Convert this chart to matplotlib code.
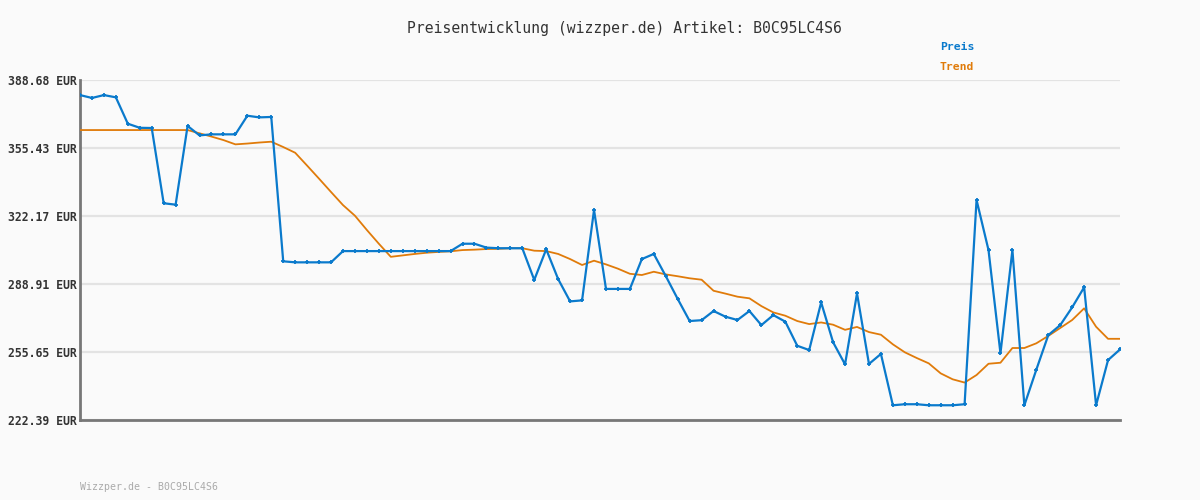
import numpy as np
import matplotlib
matplotlib.use('Agg')
import matplotlib.pyplot as plt

# Preis (Tagespreise) und Trendlinie, in EUR
preis = [381.3, 379.9, 381.3, 380.2, 367.3, 365.3, 365.2, 328.4, 327.7, 366.2,
         361.6, 362.1, 362.1, 362.1, 371.2, 370.4, 370.6, 300.0, 299.5, 299.5,
         299.5, 299.5, 305.0, 305.0, 305.0, 305.0, 305.0, 305.0, 305.0, 305.0,
         305.0, 305.0, 308.6, 308.6, 306.7, 306.4, 306.4, 306.4, 290.9, 305.9,
         291.3, 280.4, 280.9, 325.1, 286.5, 286.5, 286.5, 301.1, 303.6, 292.8,
         281.6, 270.8, 271.2, 275.7, 272.9, 271.3, 275.7, 268.8, 273.7, 270.5,
         258.7, 256.6, 279.9, 260.4, 249.6, 284.3, 249.8, 254.7, 229.6, 230.1,
         230.1, 229.6, 229.6, 229.6, 230.1, 330.0, 305.5, 255.0, 305.5, 229.6,
         247.0, 263.9, 268.8, 277.5, 287.3, 229.6, 251.7, 256.9]
trend = [364.2, 364.2, 364.2, 364.2, 364.2, 364.2, 364.2, 364.2, 364.2, 364.2,
         362.6, 361.0, 359.3, 357.2, 357.6, 358.1, 358.5, 355.9, 353.1, 346.8,
         340.4, 333.9, 327.5, 322.3, 315.3, 308.6, 302.2, 302.9, 303.6, 304.2,
         304.6, 304.9, 305.5, 305.7, 306.0, 306.1, 306.4, 306.4, 305.2, 305.0,
         303.6, 301.1, 298.2, 300.3, 298.5, 296.4, 293.9, 293.3, 294.9, 293.6,
         292.7, 291.7, 291.0, 285.6, 284.2, 282.7, 281.9, 278.1, 275.0, 273.4,
         270.8, 269.3, 270.1, 269.0, 266.5, 267.9, 265.4, 264.1, 259.4, 255.5,
         252.7, 250.1, 245.2, 242.3, 240.7, 244.4, 249.9, 250.4, 257.6, 257.6,
         259.9, 263.5, 267.4, 271.3, 277.0, 268.0, 262.1, 262.1]
yticks = [222.39, 255.65, 288.91, 322.17, 355.43, 388.68]
artikel = 'B0C95LC4S6'

blau = '#0a7acc'
orange = '#e07b0a'
font = ['DejaVu Sans Mono']

fig = plt.figure(figsize=(12, 5), dpi=100, facecolor='#fafafa')
ax = fig.add_axes([80/1200, 80/500, 1040/1200, 340/500])
ax.set_facecolor('#fafafa')

x = np.arange(len(preis))
ax.plot(x, trend, color=orange, linewidth=1.3, zorder=3)
ax.plot(x, preis, color=blau, linewidth=1.6, marker='+', markersize=3.5,
        markeredgewidth=1.3, zorder=4)

ax.set_xlim(0, len(preis) - 1)
ax.set_ylim(yticks[0], yticks[-1])
ax.set_yticks(yticks)
ax.set_yticklabels([f'{v:.2f} EUR' for v in yticks], family=font,
                   fontsize=8.3, fontweight='bold', color='#333333')
ax.set_xticks([])
ax.tick_params(axis='y', length=0, pad=2)
ax.grid(axis='y', color='#e3e3e3', linewidth=1.6, zorder=0)

for s in ['top', 'right']:
    ax.spines[s].set_visible(False)
for s in ['left', 'bottom']:
    ax.spines[s].set_color('#777777')
    ax.spines[s].set_linewidth(2)

fig.text(624/1200, 1 - 28/500, f'Preisentwicklung (wizzper.de) Artikel: {artikel}',
         ha='center', va='center', family=font, fontsize=10.6, color='#333333')
fig.text(940/1200, 1 - 47/500, 'Preis', ha='left', va='center', family=font,
         fontsize=8.2, fontweight='bold', color=blau)
fig.text(940/1200, 1 - 67/500, 'Trend', ha='left', va='center', family=font,
         fontsize=8.2, fontweight='bold', color=orange)
fig.text(80/1200, 1 - 487/500, f'Wizzper.de - {artikel}', ha='left', va='center',
         family=font, fontsize=7.1, color='#aaaaaa')

fig.savefig('out.png', dpi=100, facecolor=fig.get_facecolor())
